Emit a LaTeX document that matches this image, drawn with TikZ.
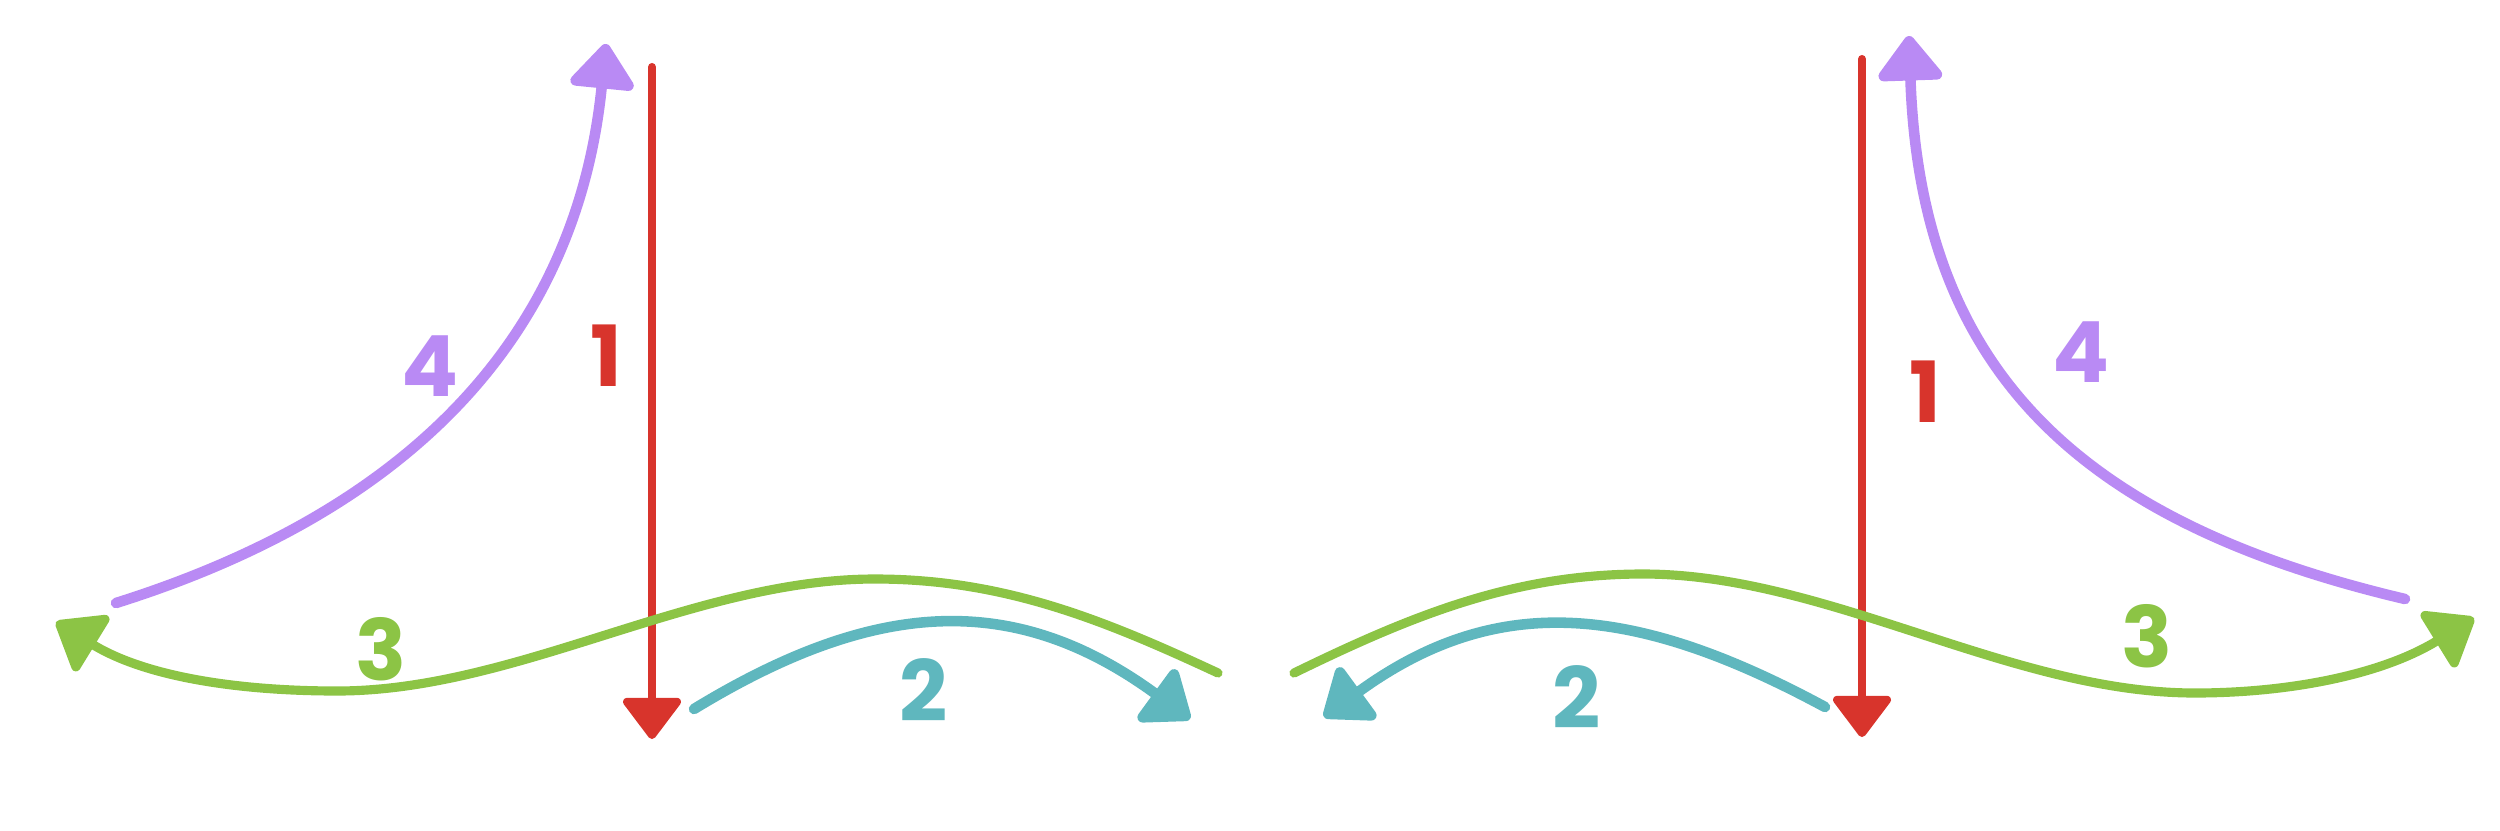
\documentclass[tikz,border=0pt]{standalone}
\usepackage{fontspec}
\newfontfamily\labelfont{Poppins}
\usetikzlibrary{arrows.meta}
\definecolor{cred}{HTML}{D8342C}
\definecolor{cpurple}{HTML}{B98AF4}
\definecolor{cgreen}{HTML}{8CC445}
\definecolor{cteal}{HTML}{5FB7BE}
\begin{document}
\begin{tikzpicture}[x=0.01cm,y=-0.01cm,
  flow/.style={line width=3pt,line cap=round,line join=round,
    -{Triangle[length=4.8mm,width=7.2mm,round]}},
  thinflow/.style={flow,line width=2.6pt},
  redflow/.style={line width=2.3pt,line cap=round,line join=round,cred,
    -{Triangle[length=4.4mm,width=6.4mm,round]}},
  lbl/.style={font=\labelfont\bfseries\fontsize{24}{24}\selectfont,inner sep=0pt}]
\useasboundingbox (0,0) rectangle (2500,830);
% ---------- left ----------
\coordinate (r1s) at (652,67);
\coordinate (r1e) at (652,739);
\draw[redflow] (r1s) -- (r1e);
\coordinate (p1s) at (116,603);
\coordinate (p1e) at (606,44);
\draw[flow,cpurple] (p1s) .. controls (402,513) and (576,343) .. (p1e);
\coordinate (g1s) at (1218,673);
\coordinate (g1m) at (875,579);
\coordinate (g1n) at (337,691);
\coordinate (g1e) at (56,622);
\draw[thinflow,cgreen] (g1s) .. controls (1102,619) and (1003,579) .. (g1m)
  .. controls (693,579) and (517,691) .. (g1n)
  .. controls (247,691) and (149,679) .. (g1e);
\coordinate (t1s) at (694,709);
\coordinate (t1e) at (1190,719);
\draw[flow,cteal] (t1s) .. controls (876,598) and (1015,591) .. (t1e);
\node[lbl,text=cred] (l1a) at (606,356) {1};
\node[lbl,text=cteal] (l2a) at (924,690) {2};
\node[lbl,text=cgreen] (l3a) at (381,649) {3};
\node[lbl,text=cpurple] (l4a) at (430,366) {4};
% ---------- right ----------
\coordinate (r2s) at (1862,59);
\coordinate (r2e) at (1862,737);
\draw[redflow] (r2s) -- (r2e);
\coordinate (p2s) at (2405,599);
\coordinate (p2e) at (1909,36);
\draw[flow,cpurple] (p2s) .. controls (2074,521) and (1920,366) .. (p2e);
\coordinate (g2s) at (1294,673);
\coordinate (g2m) at (1643,574);
\coordinate (g2n) at (2195,693);
\coordinate (g2e) at (2474,618);
\draw[thinflow,cgreen] (g2s) .. controls (1411,616) and (1513,574) .. (g2m)
  .. controls (1828,574) and (2010,693) .. (g2n)
  .. controls (2285,693) and (2380,676) .. (g2e);
\coordinate (t2s) at (1825,707);
\coordinate (t2e) at (1324,717);
\draw[flow,cteal] (t2s) .. controls (1636,605) and (1498,590) .. (t2e);
\node[lbl,text=cred] (l1b) at (1925,392) {1};
\node[lbl,text=cteal] (l2b) at (1577,697) {2};
\node[lbl,text=cgreen] (l3b) at (2147,636) {3};
\node[lbl,text=cpurple] (l4b) at (2081,352) {4};
\end{tikzpicture}
\end{document}
